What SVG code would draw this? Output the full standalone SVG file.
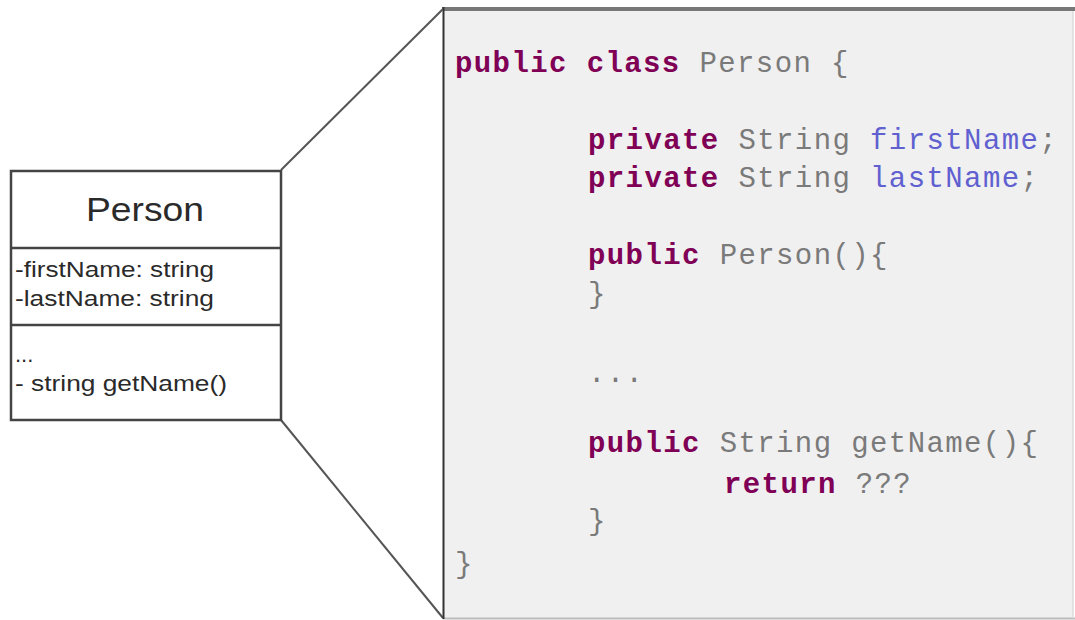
<svg xmlns="http://www.w3.org/2000/svg" width="1075" height="620" viewBox="0 0 1075 620">
<style>
.uml{font-family:"Liberation Sans",Arial,sans-serif;fill:#2a2a2a}
.code{font-family:"Liberation Mono","Courier New",monospace;font-size:29px;letter-spacing:1.4px;fill:#7a7a7a;white-space:pre}
.kw{fill:#7f0055;font-weight:bold}
.fld{fill:#6060d0}
.edge{stroke:#555;stroke-width:2;fill:none}
</style>
<rect width="1075" height="620" fill="#ffffff"/>
<g id="connectors">
<line class="edge" x1="281" y1="170" x2="443" y2="9"/>
<line class="edge" x1="281" y1="420" x2="443" y2="618"/>
</g>
<g id="code-panel">
<rect x="443" y="9" width="630" height="609" fill="#f0f0f0"/>
<line x1="443" y1="618.5" x2="1075" y2="618.5" stroke="#bbb" stroke-width="2"/>
<line x1="1073" y1="9" x2="1073" y2="618" stroke="#ddd" stroke-width="1.5"/>
<line x1="442" y1="9" x2="1075" y2="9" stroke="#777" stroke-width="4"/>
<line x1="443.5" y1="7" x2="443.5" y2="619" stroke="#333" stroke-width="2"/>
<text class="code" x="455" y="72"><tspan class="kw">public</tspan> <tspan class="kw">class</tspan> Person {</text>
<text class="code" x="588" y="149"><tspan class="kw">private</tspan> String <tspan class="fld">firstName</tspan>;</text>
<text class="code" x="588" y="187"><tspan class="kw">private</tspan> String <tspan class="fld">lastName</tspan>;</text>
<text class="code" x="588" y="264"><tspan class="kw">public</tspan> Person(){</text>
<text class="code" x="588" y="303">}</text>
<text class="code" x="588" y="382">...</text>
<text class="code" x="588" y="452"><tspan class="kw">public</tspan> String getName(){</text>
<text class="code" x="724" y="493"><tspan class="kw">return</tspan> ???</text>
<text class="code" x="588" y="530">}</text>
<text class="code" x="455" y="573">}</text>
</g>
<g id="uml-person">
<rect x="11" y="171" width="270" height="249" fill="#ffffff" stroke="#444" stroke-width="2.5"/>
<line x1="11" y1="248" x2="281" y2="248" stroke="#444" stroke-width="2.5"/>
<line x1="11" y1="325" x2="281" y2="325" stroke="#444" stroke-width="2.5"/>
<text class="uml" x="145" y="221" font-size="34" text-anchor="middle" textLength="118" lengthAdjust="spacingAndGlyphs">Person</text>
<text class="uml" x="15" y="277" font-size="22" textLength="199" lengthAdjust="spacingAndGlyphs">-firstName: string</text>
<text class="uml" x="15" y="306" font-size="22" textLength="199" lengthAdjust="spacingAndGlyphs">-lastName: string</text>
<text class="uml" x="15" y="362" font-size="22">...</text>
<text class="uml" x="15" y="391" font-size="22" textLength="212" lengthAdjust="spacingAndGlyphs">- string getName()</text>
</g>
</svg>
